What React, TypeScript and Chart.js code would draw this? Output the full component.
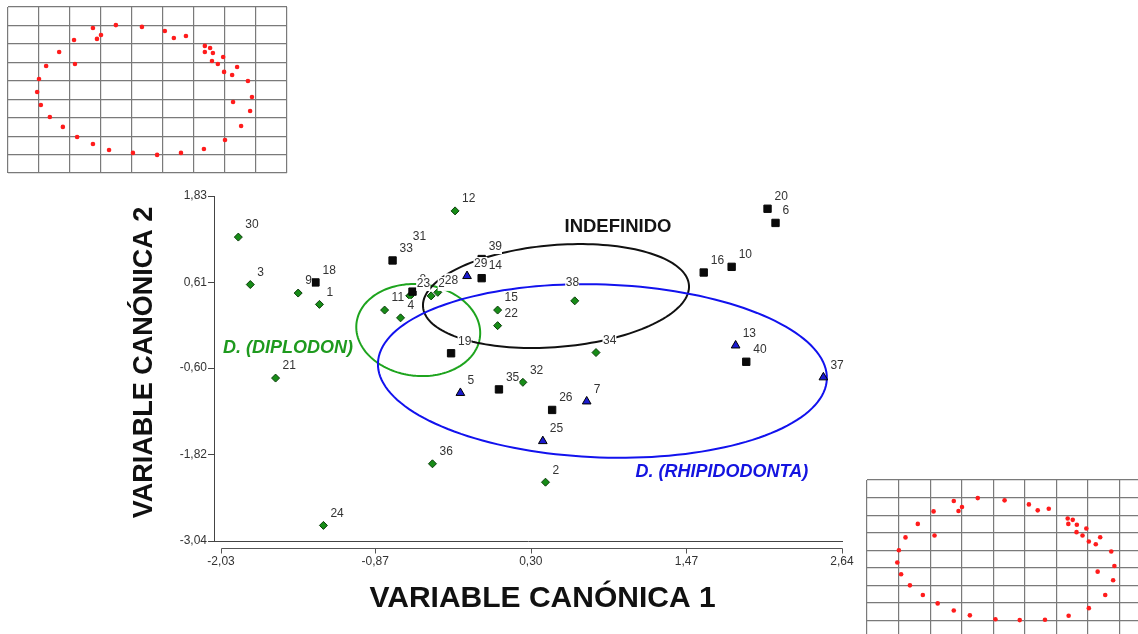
import { useEffect, useRef } from "react";
import { Chart, registerables } from "chart.js";

Chart.register(...registerables);

// ---- Canonical variate scores (x = CV1, y = CV2) per group ----
const diplodonIds = [30, 3, 9, 1, 12, 11, 4, 17, 23, 27, 28, 15, 22, 38, 34, 21, 32, 36, 2, 24];
const diplodonX = [-1.90, -1.81, -1.45, -1.29, -0.27, -0.80, -0.68, -0.61, -0.61, -0.45, -0.40, 0.05, 0.05, 0.63, 0.79, -1.62, 0.24, -0.44, 0.41, -1.26];
const diplodonY = [1.25, 0.58, 0.46, 0.30, 1.62, 0.22, 0.11, 0.42, 0.42, 0.42, 0.47, 0.22, 0.00, 0.35, -0.38, -0.74, -0.80, -1.95, -2.21, -2.82];

const indefinidoIds = [18, 33, 31, 8, 14, 39, 19, 35, 26, 16, 10, 20, 6, 40];
const indefinidoX = [-1.32, -0.74, -0.64, -0.59, -0.07, -0.07, -0.30, 0.06, 0.46, 1.60, 1.81, 2.08, 2.14, 1.92];
const indefinidoY = [0.61, 0.92, 1.09, 0.48, 0.67, 0.94, -0.39, -0.90, -1.19, 0.75, 0.83, 1.65, 1.45, -0.51];

const rhipidodontaIds = [29, 5, 7, 25, 13, 37];
const rhipidodontaX = [-0.18, -0.23, 0.72, 0.39, 1.84, 2.50];
const rhipidodontaY = [0.70, -0.95, -1.07, -1.63, -0.28, -0.73];

// ---- Axis ticks ----
const xTicks = [-2.03, -0.87, 0.3, 1.47, 2.64];
const yTicks = [-3.04, -1.82, -0.6, 0.61, 1.83];

// ---- Group ellipses: centre and two conjugate half-axes, in score units ----
const diplodonEllipseCenter = [-0.547, -0.062];
const diplodonEllipseU = [0.466, -0.042];
const diplodonEllipseV = [0.0, 0.649];

const indefinidoEllipseCenter = [0.489, 0.418];
const indefinidoEllipseU = [1.0, 0.155];
const indefinidoEllipseV = [-0.032, 0.717];

const rhipidodontaEllipseCenter = [0.838, -0.64];
const rhipidodontaEllipseU = [1.688, -0.113];
const rhipidodontaEllipseV = [0.023, 1.22];

// ---- Deformation grids (landmark configurations in grid-cell units) ----
const gridLines = [0, 1, 2, 3, 4, 5, 6, 7, 8, 9];

const shapeAU = [2.74, 3.48, 4.32, 5.06, 5.35, 5.74, 3.0, 2.87, 2.13, 1.65, 2.16, 1.23, 1.0, 0.94, 1.06, 1.35, 1.77, 2.23, 2.74, 3.26, 4.03, 4.81, 5.58, 6.32, 7.0, 7.52, 7.81, 7.87, 7.26, 7.74, 7.23, 7.39, 6.97, 6.77, 6.58, 6.94, 6.61, 6.35, 6.35, 6.52];
const shapeAV = [1.14, 0.98, 1.08, 1.3, 1.68, 1.57, 1.52, 1.73, 1.79, 2.44, 3.09, 3.2, 3.9, 4.61, 5.31, 5.96, 6.5, 7.05, 7.43, 7.75, 7.91, 8.02, 7.91, 7.7, 7.21, 6.45, 5.64, 4.88, 5.15, 4.01, 3.69, 3.25, 3.52, 3.09, 2.93, 2.71, 2.49, 2.44, 2.11, 2.22];

const shapeBU = [2.75, 3.51, 4.36, 5.13, 5.41, 5.76, 3.01, 2.9, 2.11, 1.61, 2.14, 1.22, 1.01, 0.96, 1.08, 1.36, 1.77, 2.24, 2.75, 3.26, 4.07, 4.84, 5.64, 6.39, 7.03, 7.55, 7.8, 7.84, 7.31, 7.74, 7.25, 7.39, 7.03, 6.83, 6.64, 6.95, 6.65, 6.38, 6.36, 6.52];
const shapeBV = [1.2, 1.03, 1.16, 1.39, 1.73, 1.64, 1.54, 1.77, 1.79, 2.5, 3.16, 3.27, 4.0, 4.7, 5.37, 6.0, 6.55, 7.03, 7.43, 7.71, 7.93, 7.98, 7.96, 7.73, 7.3, 6.55, 5.71, 4.9, 5.22, 4.07, 3.66, 3.26, 3.5, 3.16, 2.97, 2.76, 2.55, 2.5, 2.19, 2.27];

const fmt = (v: number) => v.toFixed(2).replace(".", ",");
const SANS = '"Liberation Sans", Arial, sans-serif';

const labelNudge: Record<number, [number, number]> = { 38: [-16, -6] };

type Pt = { x: number; y: number; id: number };
const toPoints = (ids: number[], xs: number[], ys: number[]): Pt[] =>
  ids.map((id, i) => ({ x: xs[i], y: ys[i], id }));

const ellipses = [
  { c: diplodonEllipseCenter, u: diplodonEllipseU, v: diplodonEllipseV, color: "#1ea41e" },
  { c: indefinidoEllipseCenter, u: indefinidoEllipseU, v: indefinidoEllipseV, color: "#111111" },
  { c: rhipidodontaEllipseCenter, u: rhipidodontaEllipseU, v: rhipidodontaEllipseV, color: "#1212ee" },
];

const groupTitles = [
  { text: "INDEFINIDO", at: [0.955, 1.392], color: "#141414", font: `bold 18.5px ${SANS}` },
  { text: "D. (DIPLODON)", at: [-1.526, -0.316], color: "#1e9a1e", font: `italic bold 18px ${SANS}` },
  { text: "D. (RHIPIDODONTA)", at: [1.737, -2.066], color: "#1414e0", font: `italic bold 18px ${SANS}` },
];

const ellipsePlugin = {
  id: "groupEllipses",
  beforeDatasetsDraw(chart: any) {
    const { ctx } = chart;
    const xs = chart.scales.x;
    const ys = chart.scales.y;
    ctx.save();
    for (const e of ellipses) {
      ctx.beginPath();
      const n = 160;
      for (let k = 0; k <= n; k++) {
        const t = (k / n) * Math.PI * 2;
        const dx = e.c[0] + e.u[0] * Math.cos(t) + e.v[0] * Math.sin(t);
        const dy = e.c[1] + e.u[1] * Math.cos(t) + e.v[1] * Math.sin(t);
        const px = xs.getPixelForValue(dx);
        const py = ys.getPixelForValue(dy);
        if (k === 0) ctx.moveTo(px, py);
        else ctx.lineTo(px, py);
      }
      ctx.closePath();
      ctx.strokeStyle = e.color;
      ctx.lineWidth = 2;
      ctx.stroke();
    }
    ctx.restore();
  },
};

const labelPlugin = {
  id: "pointLabels",
  afterDatasetsDraw(chart: any) {
    const { ctx } = chart;
    const items: { id: number; x: number; y: number }[] = [];
    chart.data.datasets.forEach((ds: any, di: number) => {
      const meta = chart.getDatasetMeta(di);
      ds.data.forEach((p: Pt, i: number) => {
        const el = meta.data[i];
        items.push({ id: p.id, x: el.x, y: el.y });
      });
    });
    items.sort((a, b) => a.id - b.id);
    ctx.save();
    ctx.font = `12px ${SANS}`;
    ctx.textBaseline = "middle";
    ctx.textAlign = "left";
    for (const it of items) {
      const text = String(it.id);
      const n = labelNudge[it.id] || [0, 0];
      const lx = it.x + 7 + n[0];
      const ly = it.y - 12 + n[1];
      const w = ctx.measureText(text).width;
      // white label box hides lines and marks underneath the number
      ctx.fillStyle = "#ffffff";
      ctx.fillRect(lx - 0.5, ly - 7, w + 0.5, 14);
      ctx.fillStyle = "#333333";
      ctx.fillText(text, lx, ly);
    }
    // group captions
    const xs = chart.scales.x;
    const ys = chart.scales.y;
    ctx.textAlign = "center";
    for (const g of groupTitles) {
      ctx.font = g.font;
      ctx.fillStyle = g.color;
      ctx.fillText(g.text, xs.getPixelForValue(g.at[0]), ys.getPixelForValue(g.at[1]));
    }
    ctx.restore();
  },
};

const axisPlugin = {
  id: "detachedAxis",
  afterDraw(chart: any) {
    const { ctx, chartArea } = chart;
    const xs = chart.scales.x;
    const y0 = chartArea.bottom + 7.5;
    const xa = Math.round(xs.getPixelForValue(xTicks[0])) + 0.5;
    const xb = Math.round(xs.getPixelForValue(xTicks[xTicks.length - 1])) + 0.5;
    ctx.save();
    ctx.strokeStyle = "#555555";
    ctx.lineWidth = 1;
    ctx.beginPath();
    ctx.moveTo(xa, y0);
    ctx.lineTo(xb, y0);
    for (const t of xTicks) {
      const px = Math.round(xs.getPixelForValue(t)) + 0.5;
      ctx.moveTo(px, y0);
      ctx.lineTo(px, y0 + 5);
    }
    ctx.stroke();

    ctx.fillStyle = "#111111";
    ctx.textAlign = "center";
    ctx.textBaseline = "alphabetic";
    ctx.font = `bold 30px ${SANS}`;
    ctx.fillText("VARIABLE CANÓNICA 1", 542.5, 607);

    ctx.translate(151.5, 362.5);
    ctx.rotate(-Math.PI / 2);
    ctx.font = `bold 27px ${SANS}`;
    ctx.fillText("VARIABLE CANÓNICA 2", 0, 0);
    ctx.restore();
  },
};

function ScoresChart() {
  const ref = useRef<HTMLCanvasElement>(null);
  useEffect(() => {
    if (!ref.current) return;
    const chart = new Chart(ref.current, {
      type: "scatter",
      data: {
        datasets: [
          {
            label: "Rhipidodonta",
            data: toPoints(rhipidodontaIds, rhipidodontaX, rhipidodontaY),
            pointStyle: "triangle",
            pointRadius: 5,
            backgroundColor: "#1a1ad0",
            borderColor: "#000000",
            borderWidth: 1,
          },
          {
            label: "Indefinido",
            data: toPoints(indefinidoIds, indefinidoX, indefinidoY),
            pointStyle: "rect",
            pointRadius: 5.2,
            backgroundColor: "#0a0a0a",
            borderColor: "#0a0a0a",
            borderWidth: 1,
          },
          {
            label: "Diplodon",
            data: toPoints(diplodonIds, diplodonX, diplodonY),
            pointStyle: "rectRot",
            pointRadius: 4,
            backgroundColor: "#178c17",
            borderColor: "#0a3d0a",
            borderWidth: 1,
          },
        ],
      },
      options: {
        responsive: false,
        animation: false,
        devicePixelRatio: 1,
        layout: { padding: { left: 130, top: 196, right: 296, bottom: 53 } },
        plugins: { legend: { display: false }, tooltip: { enabled: false } },
        scales: {
          x: {
            type: "linear",
            position: "bottom",
            min: -2.083,
            max: 2.64,
            bounds: "data",
            afterBuildTicks: (s: any) => {
              s.ticks = xTicks.map((value) => ({ value }));
            },
            afterFit: (s: any) => {
              s.height = 40;
            },
            ticks: {
              autoSkip: false,
              maxRotation: 0,
              minRotation: 0,
              padding: 13,
              color: "#333333",
              font: { family: SANS, size: 12 },
              callback: (v: any) => fmt(Number(v)),
            },
            grid: { display: false, drawTicks: false },
            border: { display: true, color: "#444444", width: 1 },
          },
          y: {
            type: "linear",
            min: -3.04,
            max: 1.83,
            bounds: "data",
            afterBuildTicks: (s: any) => {
              s.ticks = yTicks.map((value) => ({ value }));
            },
            afterFit: (s: any) => {
              s.width = 84;
            },
            ticks: {
              autoSkip: false,
              padding: 1,
              color: "#333333",
              font: { family: SANS, size: 12 },
              callback: (v: any) => fmt(Number(v)),
            },
            grid: { display: true, drawOnChartArea: false, drawTicks: true, tickLength: 6, color: "#444444" },
            border: { display: true, color: "#444444", width: 1 },
          },
        },
      },
      plugins: [ellipsePlugin, labelPlugin, axisPlugin],
    } as any);
    return () => chart.destroy();
  }, []);
  return (
    <canvas
      ref={ref}
      width={1138}
      height={634}
      style={{ position: "absolute", left: 0, top: 0, width: 1138, height: 634 }}
    />
  );
}

function ShapeGrid(props: { left: number; top: number; width: number; height: number; us: number[]; vs: number[] }) {
  const ref = useRef<HTMLCanvasElement>(null);
  useEffect(() => {
    if (!ref.current) return;
    const gridScale = (reverse: boolean) => ({
      type: "linear",
      min: 0,
      max: 9,
      reverse,
      bounds: "data",
      afterBuildTicks: (s: any) => {
        s.ticks = gridLines.map((value) => ({ value }));
      },
      ticks: { display: false },
      grid: { color: "#7a7a7a", lineWidth: 1.2, drawTicks: false },
      border: { display: false },
    });
    const chart = new Chart(ref.current, {
      type: "scatter",
      data: {
        datasets: [
          {
            data: props.us.map((u, i) => ({ x: u, y: props.vs[i] })),
            pointRadius: 2.3,
            pointStyle: "circle",
            backgroundColor: "#ff1c1c",
            borderWidth: 0,
          },
        ],
      },
      options: {
        responsive: false,
        animation: false,
        devicePixelRatio: 1,
        layout: { padding: 5 },
        plugins: { legend: { display: false }, tooltip: { enabled: false } },
        scales: { x: gridScale(false), y: gridScale(true) },
      },
    } as any);
    return () => chart.destroy();
  }, []);
  return (
    <canvas
      ref={ref}
      width={props.width}
      height={props.height}
      style={{
        position: "absolute",
        left: props.left,
        top: props.top,
        width: props.width,
        height: props.height,
        filter: "blur(0.45px)",
      }}
    />
  );
}

export default function App() {
  return (
    <div
      style={{
        position: "fixed",
        left: 0,
        top: 0,
        width: 1138,
        height: 634,
        overflow: "hidden",
        background: "#ffffff",
      }}
    >
      <ScoresChart />
      <ShapeGrid left={3} top={2} width={289} height={176} us={shapeAU} vs={shapeAV} />
      <ShapeGrid left={862} top={475} width={294} height={168} us={shapeBU} vs={shapeBV} />
    </div>
  );
}
